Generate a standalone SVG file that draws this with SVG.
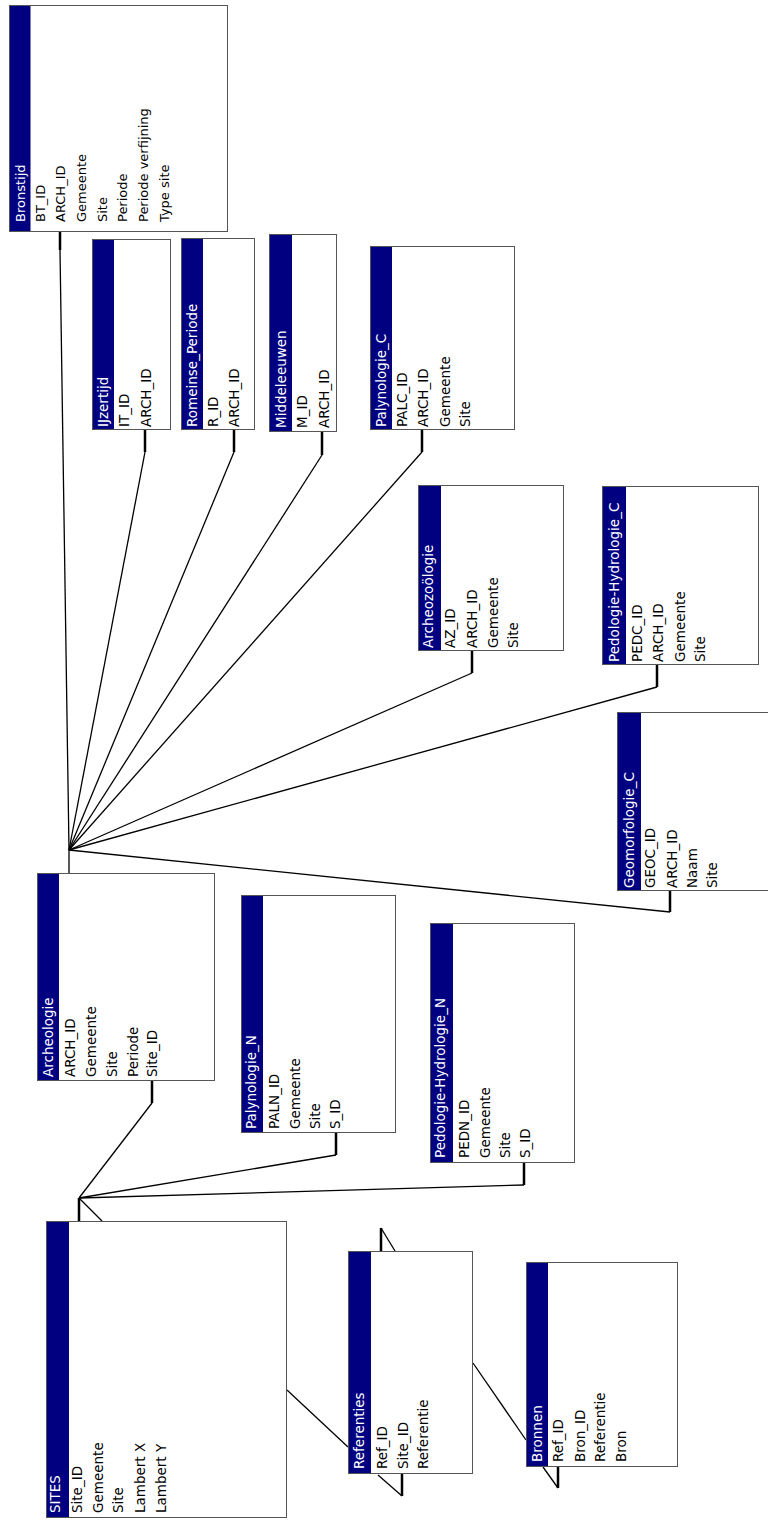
<svg xmlns="http://www.w3.org/2000/svg" width="768" height="1522" viewBox="0 0 768 1522">
<style>
.box{fill:#fff;stroke:#555;stroke-width:1}
.bar{fill:#000080;stroke:none}
.h{font-family:"DejaVu Sans",sans-serif;font-size:13.5px;fill:#fff}
.f{font-family:"DejaVu Sans",sans-serif;font-size:13.5px;fill:#000}
.ln{fill:none;stroke:#000;stroke-width:1.3}
.stub{fill:none;stroke:#000;stroke-width:2.5}
</style>
<rect width="768" height="1522" fill="#fff"/>
<g id="connectors">
<polyline class="ln" points="60,250 69,850"/>
<polyline class="ln" points="145,452 69,850"/>
<polyline class="ln" points="234,452 69,850"/>
<polyline class="ln" points="322,455 69,850"/>
<polyline class="ln" points="422,452 69,850"/>
<polyline class="ln" points="472,673 69,850"/>
<polyline class="ln" points="657,687 69,850"/>
<polyline class="ln" points="670,912 69,850"/>
<path class="stub" d="M60,232V250M145,430V452M234,430V452M322,432V455M422,430V452M472,651V673M657,665V687M670,891V912"/>
<path class="ln" d="M69,850V873"/>
<polyline class="ln" points="152,1103 79,1198"/>
<polyline class="ln" points="336,1155 79,1198"/>
<polyline class="ln" points="524,1185 79,1198"/>
<path class="stub" d="M152,1081V1103M336,1133V1155M524,1163V1185M79,1198V1221"/>
<path class="ln" d="M79,1198L102,1221"/>
<path class="ln" d="M287,1390L348,1447"/>
<path class="stub" d="M381,1228V1251"/>
<path class="ln" d="M381,1228L395,1251"/>
<path class="stub" d="M402,1474V1496"/>
<path class="ln" d="M378,1475L402,1496"/>
<path class="ln" d="M473,1363L526,1440"/>
<path class="stub" d="M558,1467V1488"/>
<path class="ln" d="M543,1467L558,1488"/>
</g>
<g id="Bronstijd">
<rect class="box" x="9.5" y="5.5" width="218" height="226"/>
<rect class="bar" x="10" y="6" width="20.5" height="225"/>
<text class="h" style="font-size:13px" transform="translate(25,222) rotate(-90)">Bronstijd</text>
<text class="f" style="font-size:13px" transform="translate(44.5,222) rotate(-90)">BT_ID</text>
<text class="f" style="font-size:13px" transform="translate(65.2,222) rotate(-90)">ARCH_ID</text>
<text class="f" style="font-size:13px" transform="translate(85.9,222) rotate(-90)">Gemeente</text>
<text class="f" style="font-size:13px" transform="translate(106.6,222) rotate(-90)">Site</text>
<text class="f" style="font-size:13px" transform="translate(127.3,222) rotate(-90)">Periode</text>
<text class="f" style="font-size:13px" transform="translate(148,222) rotate(-90)">Periode verfijning</text>
<text class="f" style="font-size:13px" transform="translate(168.7,222) rotate(-90)">Type site</text>
</g>
<g id="IJzertijd">
<rect class="box" x="92.5" y="239.5" width="78" height="190"/>
<rect class="bar" x="93" y="240" width="21" height="189"/>
<text class="h" transform="translate(108,427) rotate(-90)">IJzertijd</text>
<text class="f" transform="translate(129,427) rotate(-90)">IT_ID</text>
<text class="f" transform="translate(151,427) rotate(-90)">ARCH_ID</text>
</g>
<g id="Romeinse_Periode">
<rect class="box" x="181.5" y="238.5" width="73" height="191"/>
<rect class="bar" x="182" y="239" width="21" height="190"/>
<text class="h" transform="translate(197,427) rotate(-90)">Romeinse_Periode</text>
<text class="f" transform="translate(218,427) rotate(-90)">R_ID</text>
<text class="f" transform="translate(239,427) rotate(-90)">ARCH_ID</text>
</g>
<g id="Middeleeuwen">
<rect class="box" x="269.5" y="234.5" width="67" height="197"/>
<rect class="bar" x="270" y="235" width="22" height="196"/>
<text class="h" transform="translate(285.5,428) rotate(-90)">Middeleeuwen</text>
<text class="f" transform="translate(307,428) rotate(-90)">M_ID</text>
<text class="f" transform="translate(329,428) rotate(-90)">ARCH_ID</text>
</g>
<g id="Palynologie_C">
<rect class="box" x="370.5" y="246.5" width="144" height="183"/>
<rect class="bar" x="371" y="247" width="21" height="182"/>
<text class="h" transform="translate(385.5,427) rotate(-90)">Palynologie_C</text>
<text class="f" transform="translate(406.5,427) rotate(-90)">PALC_ID</text>
<text class="f" transform="translate(428,427) rotate(-90)">ARCH_ID</text>
<text class="f" transform="translate(449.5,427) rotate(-90)">Gemeente</text>
<text class="f" transform="translate(470,427) rotate(-90)">Site</text>
</g>
<g id="Archeozoologie">
<rect class="box" x="418.5" y="485.5" width="145" height="165"/>
<rect class="bar" x="419" y="486" width="22" height="164"/>
<text class="h" transform="translate(433,648) rotate(-90)">Archeozoölogie</text>
<text class="f" transform="translate(455,648) rotate(-90)">AZ_ID</text>
<text class="f" transform="translate(476.5,648) rotate(-90)">ARCH_ID</text>
<text class="f" transform="translate(497.5,648) rotate(-90)">Gemeente</text>
<text class="f" transform="translate(518,648) rotate(-90)">Site</text>
</g>
<g id="Pedologie-Hydrologie_C">
<rect class="box" x="602.5" y="486.5" width="156" height="178"/>
<rect class="bar" x="603" y="487" width="23" height="177"/>
<text class="h" transform="translate(619,662) rotate(-90)">Pedologie-Hydrologie_C</text>
<text class="f" transform="translate(641.5,662) rotate(-90)">PEDC_ID</text>
<text class="f" transform="translate(663,662) rotate(-90)">ARCH_ID</text>
<text class="f" transform="translate(684.5,662) rotate(-90)">Gemeente</text>
<text class="f" transform="translate(705,662) rotate(-90)">Site</text>
</g>
<g id="Geomorfologie_C">
<rect class="box" x="617.5" y="712.5" width="170" height="178"/>
<rect class="bar" x="618" y="713" width="23" height="177"/>
<text class="h" transform="translate(634,888) rotate(-90)">Geomorfologie_C</text>
<text class="f" transform="translate(655,888) rotate(-90)">GEOC_ID</text>
<text class="f" transform="translate(676.5,888) rotate(-90)">ARCH_ID</text>
<text class="f" transform="translate(697,888) rotate(-90)">Naam</text>
<text class="f" transform="translate(717,888) rotate(-90)">Site</text>
</g>
<g id="Archeologie">
<rect class="box" x="37.5" y="873.5" width="177" height="207"/>
<rect class="bar" x="38" y="874" width="21" height="206"/>
<text class="h" transform="translate(52.5,1077) rotate(-90)">Archeologie</text>
<text class="f" transform="translate(75,1077) rotate(-90)">ARCH_ID</text>
<text class="f" transform="translate(96,1077) rotate(-90)">Gemeente</text>
<text class="f" transform="translate(117,1077) rotate(-90)">Site</text>
<text class="f" transform="translate(137.5,1077) rotate(-90)">Periode</text>
<text class="f" transform="translate(157,1077) rotate(-90)">Site_ID</text>
</g>
<g id="Palynologie_N">
<rect class="box" x="241.5" y="895.5" width="154" height="237"/>
<rect class="bar" x="242" y="896" width="21" height="236"/>
<text class="h" transform="translate(255.5,1129) rotate(-90)">Palynologie_N</text>
<text class="f" transform="translate(279,1129) rotate(-90)">PALN_ID</text>
<text class="f" transform="translate(300,1129) rotate(-90)">Gemeente</text>
<text class="f" transform="translate(320,1129) rotate(-90)">Site</text>
<text class="f" transform="translate(340,1129) rotate(-90)">S_ID</text>
</g>
<g id="Pedologie-Hydrologie_N">
<rect class="box" x="430.5" y="923.5" width="144" height="239"/>
<rect class="bar" x="431" y="924" width="22" height="238"/>
<text class="h" transform="translate(445,1158) rotate(-90)">Pedologie-Hydrologie_N</text>
<text class="f" transform="translate(469,1158) rotate(-90)">PEDN_ID</text>
<text class="f" transform="translate(490,1158) rotate(-90)">Gemeente</text>
<text class="f" transform="translate(510,1158) rotate(-90)">Site</text>
<text class="f" transform="translate(530,1158) rotate(-90)">S_ID</text>
</g>
<g id="SITES">
<rect class="box" x="46.5" y="1221.5" width="240" height="296"/>
<rect class="bar" x="47" y="1222" width="22" height="295"/>
<text class="h" transform="translate(59.5,1513) rotate(-90)">SITES</text>
<text class="f" transform="translate(81.5,1513) rotate(-90)">Site_ID</text>
<text class="f" transform="translate(102.5,1513) rotate(-90)">Gemeente</text>
<text class="f" transform="translate(123,1513) rotate(-90)">Site</text>
<text class="f" transform="translate(145,1513) rotate(-90)">Lambert X</text>
<text class="f" transform="translate(166,1513) rotate(-90)">Lambert Y</text>
</g>
<g id="Referenties">
<rect class="box" x="348.5" y="1251.5" width="124" height="222"/>
<rect class="bar" x="349" y="1252" width="22" height="221"/>
<text class="h" transform="translate(364,1469) rotate(-90)">Referenties</text>
<text class="f" transform="translate(386.5,1469) rotate(-90)">Ref_ID</text>
<text class="f" transform="translate(408,1469) rotate(-90)">Site_ID</text>
<text class="f" transform="translate(428,1469) rotate(-90)">Referentie</text>
</g>
<g id="Bronnen">
<rect class="box" x="526.5" y="1262.5" width="151" height="204"/>
<rect class="bar" x="527" y="1263" width="21" height="203"/>
<text class="h" transform="translate(541.5,1462) rotate(-90)">Bronnen</text>
<text class="f" transform="translate(563,1462) rotate(-90)">Ref_ID</text>
<text class="f" transform="translate(585,1462) rotate(-90)">Bron_ID</text>
<text class="f" transform="translate(605,1462) rotate(-90)">Referentie</text>
<text class="f" transform="translate(626,1462) rotate(-90)">Bron</text>
</g>
</svg>
